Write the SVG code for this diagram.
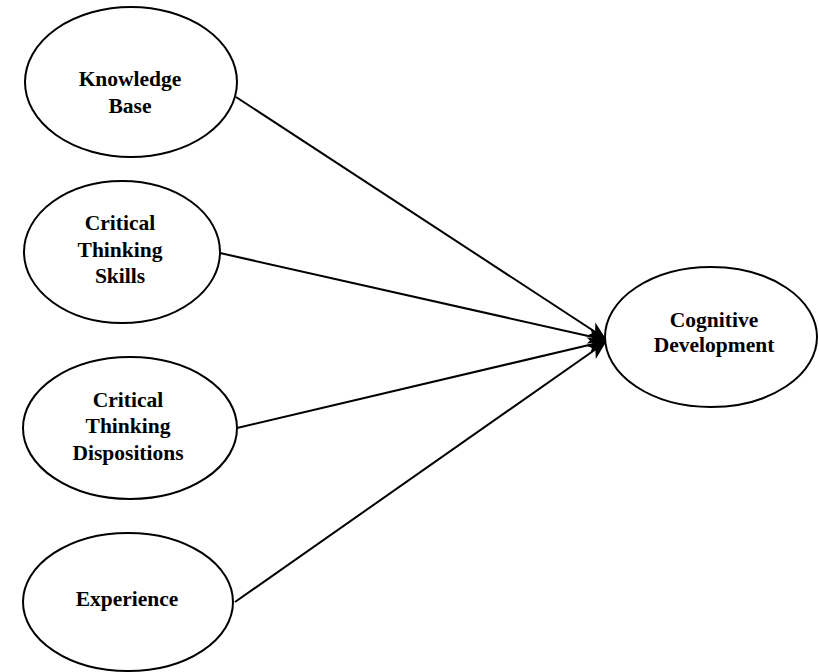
<svg xmlns="http://www.w3.org/2000/svg" width="819" height="672" viewBox="0 0 819 672">
<style>
.n ellipse{fill:#fff;stroke:#000;stroke-width:2}
.n text{font-family:"Liberation Serif","Times New Roman",serif;font-weight:bold;font-size:21.5px;text-anchor:middle;fill:#000}
.c line{stroke:#000;stroke-width:2}
</style>
<defs>
<marker id="ah" markerUnits="userSpaceOnUse" markerWidth="24" markerHeight="24" viewBox="0 0 24 24" refX="20" refY="12" orient="auto">
<path d="M2,4 L20,12 L2,20 L7,12 Z" fill="#000"/>
</marker>
</defs>
<rect width="819" height="672" fill="#fff"/>
<g class="c" id="connectors">
<line x1="236" y1="97" x2="606" y2="339" marker-end="url(#ah)"/>
<line x1="220" y1="253" x2="606" y2="340" marker-end="url(#ah)"/>
<line x1="237" y1="428" x2="606" y2="341" marker-end="url(#ah)"/>
<line x1="235" y1="602" x2="606" y2="342" marker-end="url(#ah)"/>
</g>
<g class="n" id="knowledge">
<ellipse cx="131" cy="82" rx="106" ry="75"/>
<text x="130" y="86">Knowledge</text>
<text x="130" y="113">Base</text>
</g>
<g class="n" id="skills">
<ellipse cx="122" cy="252" rx="98" ry="71"/>
<text x="120" y="230">Critical</text>
<text x="120" y="257">Thinking</text>
<text x="120" y="283">Skills</text>
</g>
<g class="n" id="dispositions">
<ellipse cx="130" cy="428" rx="107" ry="71"/>
<text x="128" y="407">Critical</text>
<text x="128" y="433">Thinking</text>
<text x="128" y="460">Dispositions</text>
</g>
<g class="n" id="experience">
<ellipse cx="128" cy="602" rx="105" ry="69"/>
<text x="127" y="606">Experience</text>
</g>
<g class="n" id="cognitive">
<ellipse cx="711" cy="337" rx="106" ry="70"/>
<text x="714" y="327">Cognitive</text>
<text x="714" y="352">Development</text>
</g>
</svg>
